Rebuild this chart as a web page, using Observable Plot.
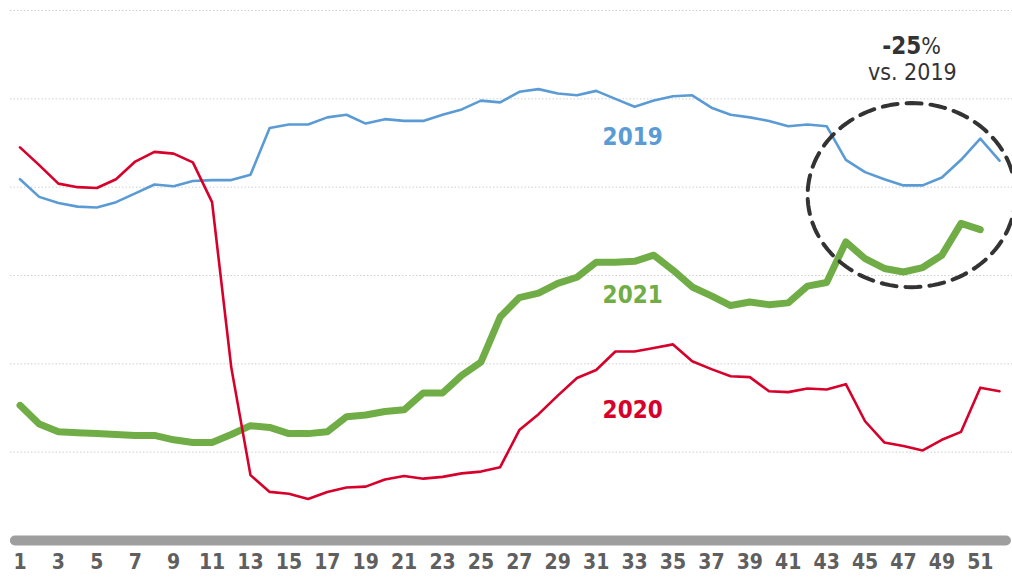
<!DOCTYPE html>
<html><head><meta charset="utf-8">
<script src="https://cdn.jsdelivr.net/npm/d3@7"></script>
<script src="https://cdn.jsdelivr.net/npm/@observablehq/plot@0.6"></script>
<style>html,body{margin:0;padding:0;background:#fff;} svg{display:block}</style>
</head><body><div id="chart"></div>
<script>
// Weekly index values (week 1..52)
const values2019 = [40.9,38.9,38.2,37.8,37.7,38.3,39.3,40.3,40.1,40.7,40.8,40.8,41.4,46.7,47.1,47.1,47.9,48.2,47.2,47.7,47.5,47.5,48.2,48.8,49.8,49.6,50.8,51.1,50.6,50.4,50.9,50.0,49.1,49.8,50.3,50.4,49.0,48.2,47.9,47.5,46.9,47.1,46.9,43.1,41.7,40.9,40.2,40.2,41.1,43.1,45.5,43.0];
const values2020 = [44.5,42.5,40.4,40.0,39.9,40.9,42.9,44.0,43.8,42.8,38.3,19.6,7.4,5.5,5.3,4.7,5.5,6.0,6.1,6.9,7.3,7.0,7.2,7.6,7.8,8.3,12.5,14.3,16.4,18.4,19.3,21.4,21.4,21.8,22.2,20.3,19.4,18.6,18.5,16.9,16.8,17.2,17.1,17.7,13.5,11.1,10.7,10.2,11.4,12.3,17.3,16.9];
const values2021 = [15.3,13.2,12.3,12.2,12.1,12.0,11.9,11.9,11.4,11.1,11.1,12.0,13.0,12.8,12.1,12.1,12.3,14.0,14.2,14.6,14.8,16.7,16.7,18.7,20.2,25.3,27.5,28.0,29.1,29.8,31.5,31.5,31.6,32.3,30.6,28.7,27.7,26.6,27.0,26.7,26.9,28.8,29.2,33.8,31.9,30.8,30.4,30.9,32.3,35.9,35.2];
const tickWeeks = [1,3,5,7,9,11,13,15,17,19,21,23,25,27,29,31,33,35,37,39,41,43,45,47,49,51];
const gridValues = [10,20,30,40,50,60];
const seriesNames = ["2019","2020","2021"];
const seriesColors = ["#5b9bd5","#d6002b","#70ad47"];
const labelWeeks = [32.9,32.9,32.9];
const labelValues = [45.6,14.75,27.8];
// annotation (-25% vs. 2019) and highlight ellipse around weeks 44-52
const noteBold = "-25", notePct = "%", noteLine2 = "vs. 2019";
const noteWeek = 47.93, noteValue = 55.9, note2Week = 47.46, note2Value = 53.0;
const ellipseCenter = {week: 47.42, value: 39.1, rWeek: 5.41, rValue: 10.42};

const toRows = (arr, name) => arr.map((v, i) => ({week: i + 1, value: v, series: name}));
const rows2019 = toRows(values2019, "2019");
const rows2020 = toRows(values2020, "2020");
const rows2021 = toRows(values2021, "2021");
const labels = seriesNames.map((s, i) => ({label: s, week: labelWeeks[i], value: labelValues[i], color: seriesColors[i]}));
const ellipsePts = d3.range(0, 361, 3).map(a => {
  const t = a * Math.PI / 180;
  return {week: ellipseCenter.week + ellipseCenter.rWeek * Math.cos(t), value: ellipseCenter.value + ellipseCenter.rValue * Math.sin(t)};
});

const font = "'DejaVu Sans Condensed', 'DejaVu Sans', Verdana, sans-serif";
const chart = Plot.plot({
  width: 1012, height: 577,
  marginLeft: 19.5, marginRight: 13, marginTop: 10, marginBottom: 37,
  style: {fontFamily: font, background: "#fff"},
  x: {domain: [1, 52], axis: null},
  y: {domain: [0, 60], axis: null},
  marks: [
    Plot.ruleY(gridValues, {x1: 0.505, x2: 52.68, stroke: "#cfcfcf", strokeWidth: 1, strokeDasharray: "1.5,2"}),
    Plot.ruleY([0], {x1: 0.76, x2: 52.36, stroke: "#9e9e9e", strokeWidth: 10, strokeLinecap: "round"}),
    Plot.axisX(tickWeeks, {tickSize: 0, tickPadding: 14, fontSize: 21, fontWeight: "bold", fill: "#5f5f5f", label: null, tickFormat: d => String(d)}),
    Plot.line(rows2019, {x: "week", y: "value", stroke: seriesColors[0], strokeWidth: 2.6, strokeLinejoin: "round"}),
    Plot.line(rows2021, {x: "week", y: "value", stroke: seriesColors[2], strokeWidth: 7, strokeLinejoin: "round", strokeLinecap: "round"}),
    Plot.line(rows2020, {x: "week", y: "value", stroke: seriesColors[1], strokeWidth: 2.6, strokeLinejoin: "round"}),
    Plot.text(labels, {x: "week", y: "value", text: "label", fill: "color", fontSize: 24, fontWeight: "bold"}),
    Plot.text([noteBold], {x: noteWeek, y: noteValue, text: d => d, textAnchor: "end", fontSize: 24, fontWeight: "bold", fill: "#333"}),
    Plot.text([notePct], {x: noteWeek, y: noteValue, text: d => d, textAnchor: "start", fontSize: 23, fill: "#333"}),
    Plot.text([noteLine2], {x: note2Week, y: note2Value, text: d => d, fontSize: 23, fill: "#333"}),
    Plot.line(ellipsePts, {x: "week", y: "value", stroke: "#333", strokeWidth: 4, strokeDasharray: "15,9", curve: "linear"})
  ]
});
document.getElementById("chart").appendChild(chart);
</script>
</body></html>
